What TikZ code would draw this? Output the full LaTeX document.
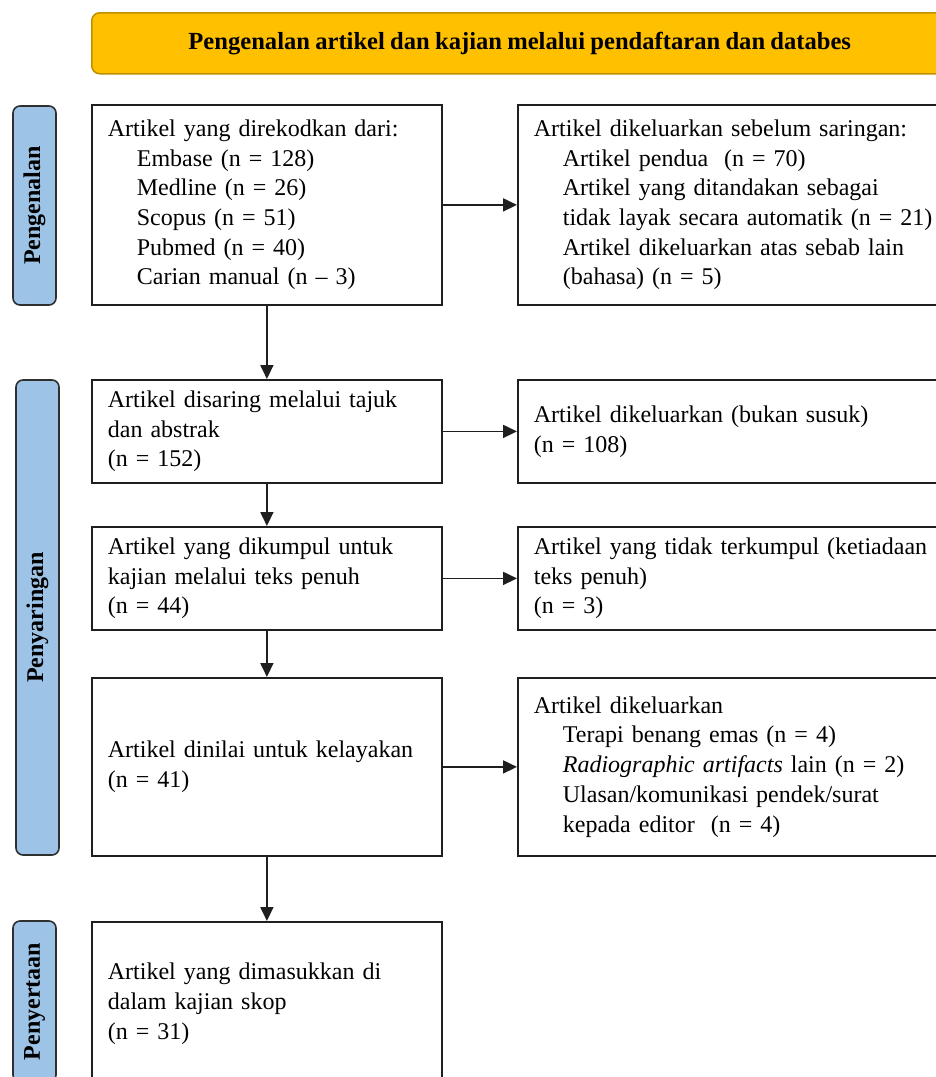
\documentclass[tikz,border=0pt]{standalone}
\usepackage{fontspec}
\setmainfont[WordSpace=0.85]{Liberation Serif}
\usetikzlibrary{arrows.meta}
\definecolor{bannerfill}{HTML}{FFC000}
\definecolor{bannerdraw}{HTML}{BF9000}
\definecolor{labfill}{HTML}{9DC3E6}
\definecolor{labdraw}{HTML}{2F2F2F}
\definecolor{boxdraw}{HTML}{1F1F1F}
\tikzset{
  box/.style={draw=boxdraw, line width=1.8pt, rectangle, anchor=north west, align=left,
    inner xsep=16pt, inner ysep=0pt, font=\fontsize{24}{29.7}\selectfont},
  lbox/.style={box, text width=318pt, minimum height=#1},
  rbox/.style={box, text width=411pt, minimum height=#1},
  lab/.style={draw=labdraw, fill=labfill, line width=1.6pt, rounded corners=7pt, rotate=90,
    font=\bfseries\fontsize{24}{28}\selectfont, inner sep=0pt, minimum height=43pt},
  banner/.style={draw=bannerdraw, fill=bannerfill, line width=1.5pt, rounded corners=8pt,
    anchor=north west, minimum width=856pt, minimum height=61pt, inner sep=0pt,
    font=\bfseries\fontsize{24.6}{28}\selectfont},
  arr/.style={-{Triangle[length=14pt,width=13pt]}, line width=1.8pt, draw=boxdraw}
}
\newcommand{\ind}{\hspace*{29pt}}
\begin{document}
\begin{tikzpicture}[x=1pt,y=-1pt]
\useasboundingbox (0,0) rectangle (936,1077);

\node[banner] (ban) at (91,12) {Pengenalan artikel dan kajian melalui pendaftaran dan databes};

\node[lab, minimum width=199pt] (l1) at (34.5,205.5) {Pengenalan};
\node[lab, minimum width=475pt] (l2) at (37.5,617.5) {Penyaringan};
\node[lab, minimum width=161pt] (l3) at (34.5,1001.5) {Penyertaan};

\node[lbox=200pt] (b1) at (91,104) {Artikel yang direkodkan dari:\\
\ind Embase (n = 128)\\
\ind Medline (n = 26)\\
\ind Scopus (n = 51)\\
\ind Pubmed (n = 40)\\
\ind Carian manual (n -- 3)};

\node[rbox=200pt] (r1) at (517,104) {Artikel dikeluarkan sebelum saringan:\\
\ind Artikel pendua\ \ (n = 70)\\
\ind Artikel yang ditandakan sebagai\\
\ind tidak layak secara automatik (n = 21)\\
\ind Artikel dikeluarkan atas sebab lain\\
\ind (bahasa) (n = 5)};

\node[lbox=103pt] (b2) at (91,379) {Artikel disaring melalui tajuk\\dan abstrak\\(n = 152)};
\node[rbox=103pt] (r2) at (517,379) {Artikel dikeluarkan (bukan susuk)\\(n = 108)};

\node[lbox=103pt] (b3) at (91,526) {Artikel yang dikumpul untuk\\kajian melalui teks penuh\\(n = 44)};
\node[rbox=103pt] (r3) at (517,526) {Artikel yang tidak terkumpul (ketiadaan\\teks penuh)\\(n = 3)};

\node[lbox=178pt] (b4) at (91,677) {Artikel dinilai untuk kelayakan\\(n = 41)};
\node[rbox=178pt] (r4) at (517,677) {Artikel dikeluarkan\\
\ind Terapi benang emas (n = 4)\\
\ind \textit{Radiographic artifacts} lain (n = 2)\\
\ind Ulasan/komunikasi pendek/surat\\
\ind kepada editor\ \ (n = 4)};

\node[lbox=164pt] (b5) at (91,921) {Artikel yang dimasukkan di\\dalam kajian skop\\(n = 31)};

\draw[arr] (b1) -- (b2);
\draw[arr] (b2) -- (b3);
\draw[arr] (b3) -- (b4);
\draw[arr] (b4) -- (b5);
\draw[arr] (b1) -- (r1);
\draw[arr] (b2) -- (r2);
\draw[arr] (b3) -- (r3);
\draw[arr] (b4) -- (r4);
\end{tikzpicture}
\end{document}
